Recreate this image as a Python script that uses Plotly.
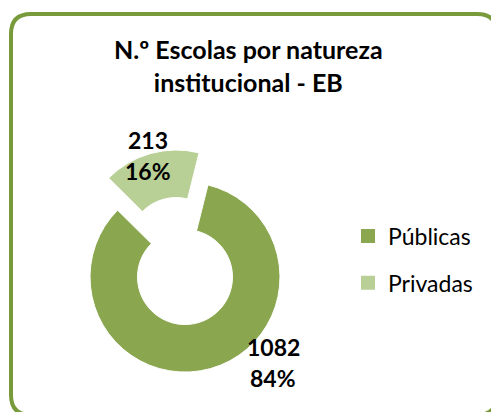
import plotly.graph_objects as go

categories = ["Públicas", "Privadas"]
values = [1082, 213]
colors = ["#8AA64F", "#B8CF96"]
pulls = [0, 0.35]

total = sum(values)
pcts = [round(v * 100 / total) for v in values]

W, H = 491, 412

fig = go.Figure()
fig.add_trace(go.Pie(
    labels=categories,
    values=values,
    hole=0.5,
    sort=False,
    direction="clockwise",
    rotation=14,
    pull=pulls,
    marker=dict(colors=colors, line=dict(color="white", width=1)),
    textinfo="none",
    hoverinfo="label+value+percent",
    showlegend=False,
    domain=dict(x=[0.1156, 0.638], y=[0.0, 0.655]),
))

# legend entries (one per category, same colours as the slices)
for i, (c, col) in enumerate(zip(categories, colors)):
    fig.add_trace(go.Scatter(
        x=[None], y=[None], mode="markers", name=c,
        marker=dict(symbol="square", size=14, color=col),
        legendgroup=f"g{i}", showlegend=True, hoverinfo="skip",
    ))

# data labels built from the values
label_pos = [(273, 347), (148, 140)]
for (px, py), v, p in zip(label_pos, values, pcts):
    for dy, txt in ((0, f"<b>{v}</b>"), (31, f"<b>{p}%</b>")):
        fig.add_annotation(
            x=px / W, y=1 - (py + dy) / H, xref="paper", yref="paper",
            text=txt, showarrow=False,
            font=dict(family="Lato", size=23, color="black"),
            xanchor="center", yanchor="middle", align="center",
        )

# title
fig.add_annotation(
    x=249 / W, y=1 - 65 / H, xref="paper", yref="paper",
    text="<b>N.º Escolas por natureza<br>institucional - EB</b>",
    showarrow=False, xanchor="center", yanchor="middle", align="center",
    font=dict(family="Lato", size=25, color="black"),
)

# rounded frame
x0, y0, x1, y1, rr = 11 / W, 1 - 14 / H, 497 / W, 1 - 415 / H, 20
rx, ry = rr / W, rr / H
path = (f"M {x0+rx},{y0} L {x1-rx},{y0} Q {x1},{y0} {x1},{y0-ry} "
        f"L {x1},{y1+ry} Q {x1},{y1} {x1-rx},{y1} L {x0+rx},{y1} "
        f"Q {x0},{y1} {x0},{y1+ry} L {x0},{y0-ry} Q {x0},{y0} {x0+rx},{y0} Z")
fig.add_shape(type="path", path=path, xref="paper", yref="paper",
              line=dict(color="#789A3B", width=4))

fig.update_layout(
    width=W, height=H,
    margin=dict(l=0, r=0, t=0, b=0),
    paper_bgcolor="white", plot_bgcolor="white",
    xaxis=dict(visible=False), yaxis=dict(visible=False),
    showlegend=True,
    legend=dict(x=348 / W, y=1 - 259.5 / H, xanchor="left", yanchor="middle",
                font=dict(family="Lato", size=23, color="black"),
                tracegroupgap=14, bgcolor="rgba(0,0,0,0)"),
)

fig.write_html("out.html", config={"displayModeBar": False},
               post_script="document.body.style.margin='0';")
